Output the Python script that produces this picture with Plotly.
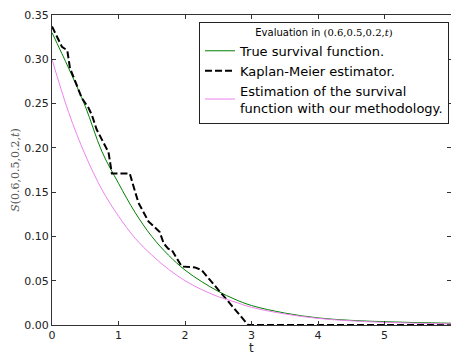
import plotly.graph_objects as go

# True survival function
t_true = [0, 0.25, 0.5, 0.75, 1.0, 1.25, 1.5, 1.75, 2.0, 2.25, 2.5, 2.75, 3.0, 3.5, 4.0, 4.5, 5.0, 5.5, 6.0]
s_true = [0.330, 0.290, 0.247, 0.196, 0.160, 0.127, 0.100, 0.079, 0.062, 0.049, 0.038, 0.029, 0.022,
          0.0135, 0.0080, 0.0052, 0.0037, 0.0027, 0.0020]

# Kaplan-Meier estimator vertices
t_km = [0, 0.15, 0.23, 0.27, 0.45, 0.55, 0.6, 0.67, 0.78, 0.85, 0.9, 1.17, 1.22, 1.3, 1.45, 1.62,
        1.68, 1.75, 1.8, 1.95, 2.15, 2.25, 2.95, 6.0]
s_km = [0.337, 0.314, 0.31, 0.29, 0.256, 0.245, 0.237, 0.221, 0.205, 0.195, 0.171, 0.171, 0.158,
        0.138, 0.117, 0.105, 0.092, 0.086, 0.085, 0.066, 0.065, 0.062, 0.0, 0.0]

# Estimated survival function
t_est = [0, 0.25, 0.5, 0.75, 1.0, 1.25, 1.5, 1.75, 2.0, 2.25, 2.5, 2.75, 3.0, 3.5, 4.0, 4.5, 5.0, 5.5, 6.0]
s_est = [0.300, 0.240, 0.192, 0.153, 0.123, 0.098, 0.079, 0.063, 0.050, 0.040, 0.032, 0.026, 0.020,
         0.0125, 0.0075, 0.0047, 0.0030, 0.0020, 0.0012]

x_ticks = [0, 1, 2, 3, 4, 5, 6]
y_ticks = [0.00, 0.05, 0.10, 0.15, 0.20, 0.25, 0.30, 0.35]

fig = go.Figure()
fig.add_trace(go.Scatter(x=t_true, y=s_true, mode="lines", line=dict(color="#008000", width=1, shape="spline"),
                         name="True survival function."))
fig.add_trace(go.Scatter(x=t_km, y=s_km, mode="lines", line=dict(color="black", width=2, dash="7px,3px"),
                         name="Kaplan-Meier estimator."))
fig.add_trace(go.Scatter(x=t_est, y=s_est, mode="lines", line=dict(color="#EE82EE", width=1, shape="spline"),
                         name="Estimation of the survival<br>function with our methodology."))

axis_common = dict(showgrid=False, zeroline=False, showline=True, linecolor="#333333", linewidth=1,
                   mirror="ticks", ticks="inside", ticklen=4, tickcolor="#333333",
                   tickfont=dict(family="DejaVu Sans", size=11, color="#222222"), automargin=False)

fig.update_layout(
    width=451, height=354,
    margin=dict(l=52, r=0, t=15, b=29),
    paper_bgcolor="white", plot_bgcolor="white",
    font=dict(family="DejaVu Sans", color="#222222"),
    xaxis=dict(range=[0, 6], tickvals=x_ticks, ticktext=[str(v) for v in x_ticks], **axis_common),
    yaxis=dict(range=[0, 0.35], tickvals=y_ticks, ticktext=["%.2f" % v for v in y_ticks],
               title=dict(text="<i>S</i>(0.6,0.5,0.2,<i>t</i>)",
                          font=dict(size=11, family="DejaVu Serif", color="#555555"), standoff=2),
               **axis_common),
    legend=dict(x=0.995, y=0.978, xanchor="right", yanchor="top",
                bgcolor="white", bordercolor="#222222", borderwidth=1,
                font=dict(family="DejaVu Sans", size=13, color="black"),
                title=dict(text="Evaluation in <span style='font-family:DejaVu Serif'>(0.6,0.5,0.2,<i>t</i>)</span>",
                           side="top center", font=dict(size=10, family="DejaVu Sans")),
                tracegroupgap=0, itemwidth=30),
    annotations=[dict(text="t", xref="paper", yref="paper", x=0.5, y=-0.074, xanchor="center",
                      yanchor="middle", showarrow=False, font=dict(size=12, family="DejaVu Sans", color="#222222"))],
    showlegend=True,
)

fig.write_html("out.html", config={"displayModeBar": False},
               post_script="document.body.style.margin='0';document.body.style.padding='0';")
